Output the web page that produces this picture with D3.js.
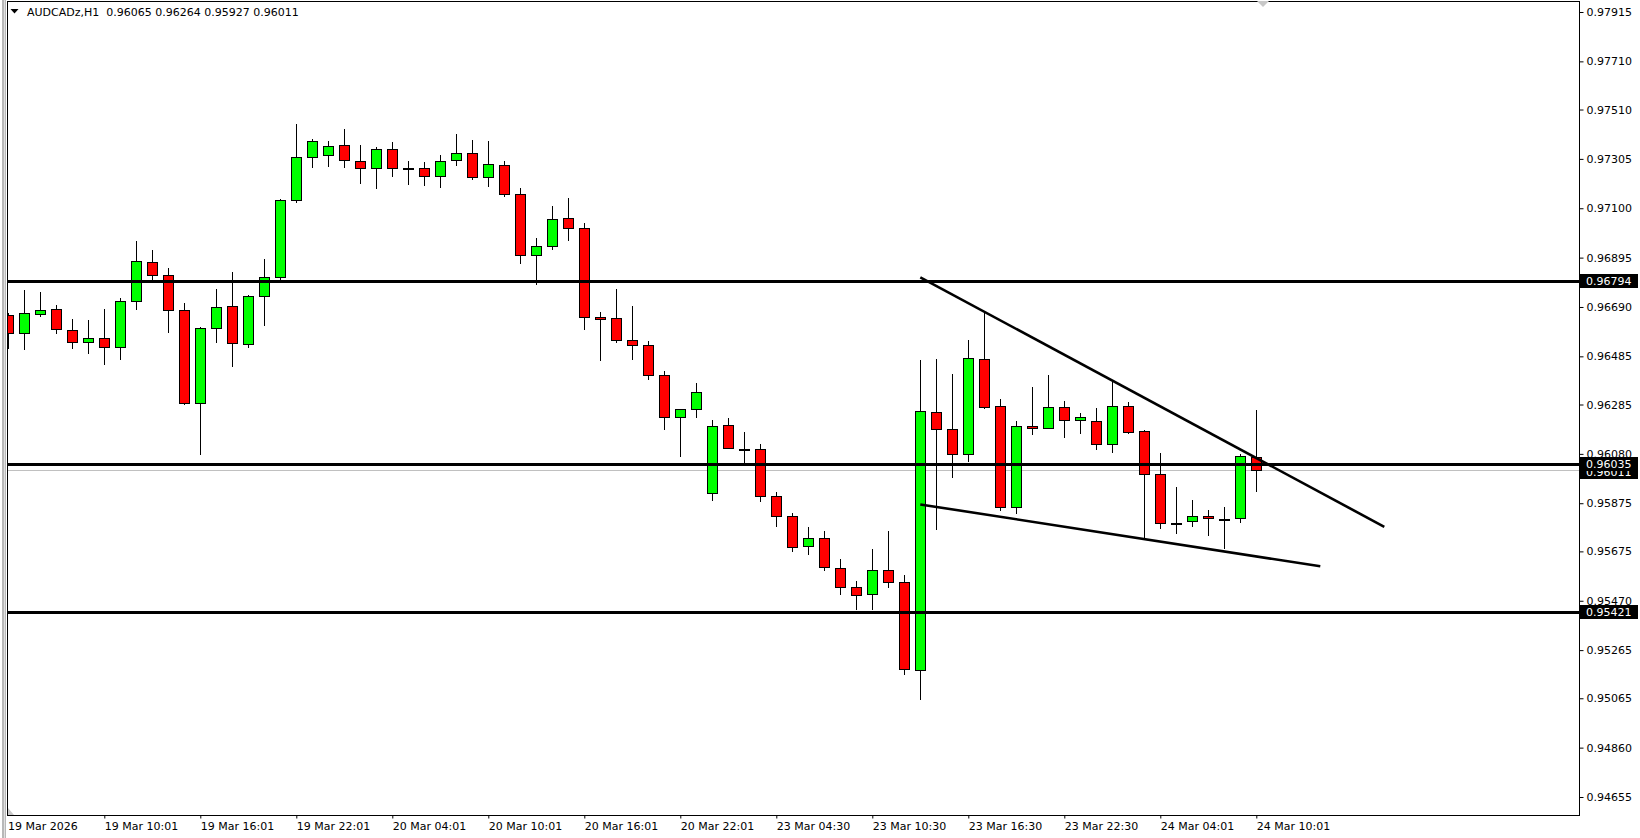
<!DOCTYPE html>
<html>
<head>
<meta charset="utf-8">
<script src="https://cdn.jsdelivr.net/npm/d3@7"></script>
<style>
  html, body { margin: 0; padding: 0; background: #fff; overflow: hidden; }
  text { font-family: "DejaVu Sans", sans-serif; font-size: 11px; }
</style>
</head>
<body>
<script>
const symbol = 'AUDCADz,H1';
const headerOhlc = [0.96065, 0.96264, 0.95927, 0.96011];
// bars start at index -1 (partly hidden at the left edge)
const firstBar = -1;
const opens = [0.96655, 0.96581, 0.96660, 0.96680, 0.96593, 0.96543, 0.96560, 0.96523, 0.96714, 0.96876,
  0.96822, 0.96676, 0.96290, 0.96601, 0.96693, 0.96535, 0.96734, 0.96813, 0.97136, 0.97312,
  0.97320, 0.97361, 0.97295, 0.97266, 0.97345, 0.97266, 0.97266, 0.97233, 0.97299, 0.97328,
  0.97229, 0.97278, 0.97158, 0.96905, 0.96942, 0.97058, 0.97017, 0.96647, 0.96643, 0.96552,
  0.96531, 0.96406, 0.96232, 0.96265, 0.95916, 0.96199, 0.96101, 0.96099, 0.95904, 0.95821,
  0.95696, 0.95729, 0.95605, 0.95526, 0.95497, 0.95596, 0.95547, 0.95181, 0.96253, 0.96182,
  0.96078, 0.96473, 0.96278, 0.95858, 0.96194, 0.96186, 0.96273, 0.96219, 0.96215, 0.96120,
  0.96278, 0.96174, 0.95995, 0.95794, 0.95800, 0.95821, 0.95811, 0.95812, 0.96065];
const highs = [0.96665, 0.96760, 0.96752, 0.96698, 0.96640, 0.96636, 0.96682, 0.96727, 0.96964, 0.96927,
  0.96852, 0.96707, 0.96605, 0.96765, 0.96835, 0.96740, 0.96889, 0.97138, 0.97450, 0.97388,
  0.97379, 0.97429, 0.97363, 0.97354, 0.97375, 0.97296, 0.97292, 0.97321, 0.97408, 0.97383,
  0.97379, 0.97296, 0.97184, 0.96976, 0.97109, 0.97143, 0.97039, 0.96668, 0.96765, 0.96694,
  0.96547, 0.96423, 0.96266, 0.96374, 0.96221, 0.96229, 0.96171, 0.96120, 0.95920, 0.95833,
  0.95775, 0.95760, 0.95643, 0.95552, 0.95685, 0.95760, 0.95576, 0.96470, 0.96474, 0.96412,
  0.96553, 0.96668, 0.96308, 0.96215, 0.96358, 0.96408, 0.96298, 0.96248, 0.96269, 0.96377,
  0.96294, 0.96178, 0.96085, 0.95941, 0.95888, 0.95846, 0.95858, 0.96078, 0.96264];
const lows = [0.96518, 0.96514, 0.96654, 0.96581, 0.96518, 0.96500, 0.96454, 0.96475, 0.96683, 0.96807,
  0.96587, 0.96286, 0.96078, 0.96546, 0.96446, 0.96525, 0.96616, 0.96802, 0.97127, 0.97273,
  0.97277, 0.97273, 0.97206, 0.97185, 0.97235, 0.97202, 0.97198, 0.97190, 0.97281, 0.97223,
  0.97194, 0.97152, 0.96874, 0.96787, 0.96930, 0.96969, 0.96600, 0.96471, 0.96546, 0.96475,
  0.96392, 0.96185, 0.96072, 0.96234, 0.95890, 0.96103, 0.96037, 0.95885, 0.95782, 0.95678,
  0.95665, 0.95599, 0.95499, 0.95437, 0.95437, 0.95528, 0.95165, 0.95061, 0.95767, 0.95985,
  0.96052, 0.96272, 0.95846, 0.95833, 0.96161, 0.96186, 0.96149, 0.96165, 0.96101, 0.96089,
  0.96165, 0.95736, 0.95771, 0.95750, 0.95779, 0.95742, 0.95688, 0.95796, 0.95927];
const closes = [0.96581, 0.96664, 0.96676, 0.96597, 0.96543, 0.96560, 0.96523, 0.96714, 0.96880, 0.96822,
  0.96676, 0.96290, 0.96601, 0.96689, 0.96539, 0.96734, 0.96813, 0.97133, 0.97312, 0.97378,
  0.97357, 0.97299, 0.97266, 0.97345, 0.97266, 0.97266, 0.97233, 0.97295, 0.97328, 0.97229,
  0.97283, 0.97158, 0.96905, 0.96942, 0.97054, 0.97017, 0.96647, 0.96639, 0.96552, 0.96531,
  0.96406, 0.96232, 0.96265, 0.96336, 0.96194, 0.96103, 0.96101, 0.95904, 0.95821, 0.95692,
  0.95729, 0.95609, 0.95526, 0.95493, 0.95596, 0.95547, 0.95185, 0.96258, 0.96182, 0.96078,
  0.96477, 0.96276, 0.95858, 0.96194, 0.96186, 0.96273, 0.96219, 0.96232, 0.96120, 0.96278,
  0.96170, 0.95995, 0.95792, 0.95794, 0.95821, 0.95812, 0.95811, 0.96070, 0.96011];

const timeLabelBars = [5, 11, 17, 23, 29, 35, 41, 47, 53, 59, 65, 71, 77];
const timeLabels = ['19 Mar 10:01', '19 Mar 16:01', '19 Mar 22:01', '20 Mar 04:01', '20 Mar 10:01',
  '20 Mar 16:01', '20 Mar 22:01', '23 Mar 04:30', '23 Mar 10:30', '23 Mar 16:30', '23 Mar 22:30',
  '24 Mar 04:01', '24 Mar 10:01'];
const startLabel = '19 Mar 2026';
const priceTicks = [0.97915, 0.97710, 0.97510, 0.97305, 0.97100, 0.96895, 0.96690, 0.96485, 0.96285,
  0.96080, 0.95875, 0.95675, 0.95470, 0.95265, 0.95065, 0.94860, 0.94655];
const levels = [0.96794, 0.96035, 0.95421];
const bidPrice = 0.96011;
const trendLines = [
  [[56, 0.96813], [85, 0.95777]],
  [[56, 0.95870], [81, 0.95613]]
];

const bars = opens.map((o, i) => ({
  i: i + firstBar, o, h: highs[i], l: lows[i], c: closes[i]
}));

const width = 1640;
const height = 838;
const plot = { left: 7, right: 1579, top: 1, bottom: 815 };

const x = d3.scaleLinear().domain([-1, 97]).range([8.3, 1576.3]);
const y = d3.scaleLinear().domain([0.94655, 0.97915]).range([797, 12]);

const svg = d3.select('body').append('svg')
  .attr('width', width).attr('height', height)
  .style('display', 'block');

svg.append('defs').append('clipPath').attr('id', 'plotClip')
  .append('rect')
  .attr('x', plot.left + 1).attr('y', plot.top + 1)
  .attr('width', plot.right - plot.left - 1).attr('height', plot.bottom - plot.top - 1);

// window edge at the left
svg.append('rect').attr('x', 2).attr('y', 0).attr('width', 4).attr('height', height).attr('fill', '#b8b8b8');
svg.append('rect').attr('x', 4).attr('y', 0).attr('width', 1).attr('height', height).attr('fill', '#e0e0e0');

const chart = svg.append('g').attr('clip-path', 'url(#plotClip)');

// bid line
chart.append('line')
  .attr('x1', plot.left).attr('x2', plot.right)
  .attr('y1', Math.round(y(bidPrice)) + 0.5).attr('y2', Math.round(y(bidPrice)) + 0.5)
  .attr('stroke', '#c0c0c0').attr('stroke-width', 1);

const cx = d => Math.floor(x(d.i));

chart.selectAll('line.wick')
  .data(bars)
  .enter().append('line')
    .attr('class', 'wick')
    .attr('x1', d => cx(d) + 0.5).attr('x2', d => cx(d) + 0.5)
    .attr('y1', d => Math.round(y(d.h))).attr('y2', d => Math.round(y(d.l)) + 1)
    .attr('stroke', '#000').attr('stroke-width', 1)
    .attr('shape-rendering', 'crispEdges');

chart.selectAll('rect.body')
  .data(bars)
  .enter().append('rect')
    .attr('class', 'body')
    .attr('x', d => cx(d) - 4.5)
    .attr('y', d => Math.round(y(Math.max(d.o, d.c))) + 0.5)
    .attr('width', 10)
    .attr('height', d => Math.max(1, Math.round(y(Math.min(d.o, d.c))) - Math.round(y(Math.max(d.o, d.c)))))
    .attr('fill', d => d.c > d.o ? '#00ff00' : (d.c < d.o ? '#ff0000' : '#000'))
    .attr('stroke', '#000').attr('stroke-width', 1)
    .attr('shape-rendering', 'crispEdges');

chart.selectAll('line.level')
  .data(levels)
  .enter().append('line')
    .attr('class', 'level')
    .attr('x1', plot.left).attr('x2', plot.right)
    .attr('y1', d => Math.round(y(d)) - 0.5).attr('y2', d => Math.round(y(d)) - 0.5)
    .attr('stroke', '#000').attr('stroke-width', 3)
    .attr('shape-rendering', 'crispEdges');

chart.selectAll('line.trend')
  .data(trendLines)
  .enter().append('line')
    .attr('class', 'trend')
    .attr('x1', d => x(d[0][0])).attr('y1', d => y(d[0][1]))
    .attr('x2', d => x(d[1][0])).attr('y2', d => y(d[1][1]))
    .attr('stroke', '#000').attr('stroke-width', 2.6);

// frame
svg.append('rect')
  .attr('x', plot.left + 0.5).attr('y', plot.top + 0.5)
  .attr('width', plot.right - plot.left).attr('height', plot.bottom - plot.top)
  .attr('fill', 'none').attr('stroke', '#000').attr('stroke-width', 1)
  .attr('shape-rendering', 'crispEdges');

// shift marker
svg.append('path').attr('d', 'M1257,1 L1269,1 L1263,7 Z').attr('fill', '#c8c8c8');
svg.append('path').attr('d', `M${plot.left + 1},${plot.bottom - 7} L${plot.left + 1},${plot.bottom} L${plot.left + 7},${plot.bottom} Z`).attr('fill', '#c8c8c8');

const yAxis = d3.axisRight(y)
  .tickValues(priceTicks)
  .tickFormat(d3.format('.5f'))
  .tickSize(4)
  .tickPadding(3);
const yg = svg.append('g')
  .attr('transform', `translate(${plot.right + 0.5}, 0)`)
  .call(yAxis);
yg.select('.domain').remove();
yg.selectAll('text').attr('font-size', null).attr('font-family', null).attr('fill', '#000');

const xAxis = d3.axisBottom(x)
  .tickValues(timeLabelBars)
  .tickFormat((d, i) => timeLabels[i])
  .tickSize(3);
const xg = svg.append('g')
  .attr('transform', `translate(0, ${plot.bottom + 0.5})`)
  .call(xAxis);
xg.select('.domain').remove();
xg.selectAll('text')
  .attr('font-size', null).attr('font-family', null)
  .attr('text-anchor', 'start')
  .attr('x', 0).attr('y', 7)
  .attr('fill', '#000');

svg.append('text')
  .attr('x', 8).attr('y', plot.bottom + 7.5).attr('dy', '0.71em')
  .attr('fill', '#000')
  .text(startLabel);

// price labels on the right scale
const tags = [bidPrice, ...levels];
const tagG = svg.selectAll('g.tag')
  .data(tags)
  .enter().append('g')
    .attr('class', 'tag')
    .attr('transform', d => `translate(${plot.right + 1}, ${Math.round(y(d)) + (d === bidPrice ? 2 : -1)})`);
tagG.append('rect')
  .attr('x', 0).attr('y', -7).attr('width', 58).attr('height', 14)
  .attr('fill', '#000');
tagG.append('text')
  .attr('x', 6).attr('dy', '0.36em')
  .attr('fill', '#fff')
  .text(d => d3.format('.5f')(d));

// header
svg.append('path').attr('d', 'M10.5,9 L18.5,9 L14.5,13.5 Z').attr('fill', '#000');
svg.append('text')
  .attr('x', 27).attr('y', 16)
  .attr('fill', '#000')
  .attr('xml:space', 'preserve')
  .style('white-space', 'pre')
  .text(`${symbol}  ${headerOhlc.map(d3.format('.5f')).join(' ')}`);
</script>
</body>
</html>
